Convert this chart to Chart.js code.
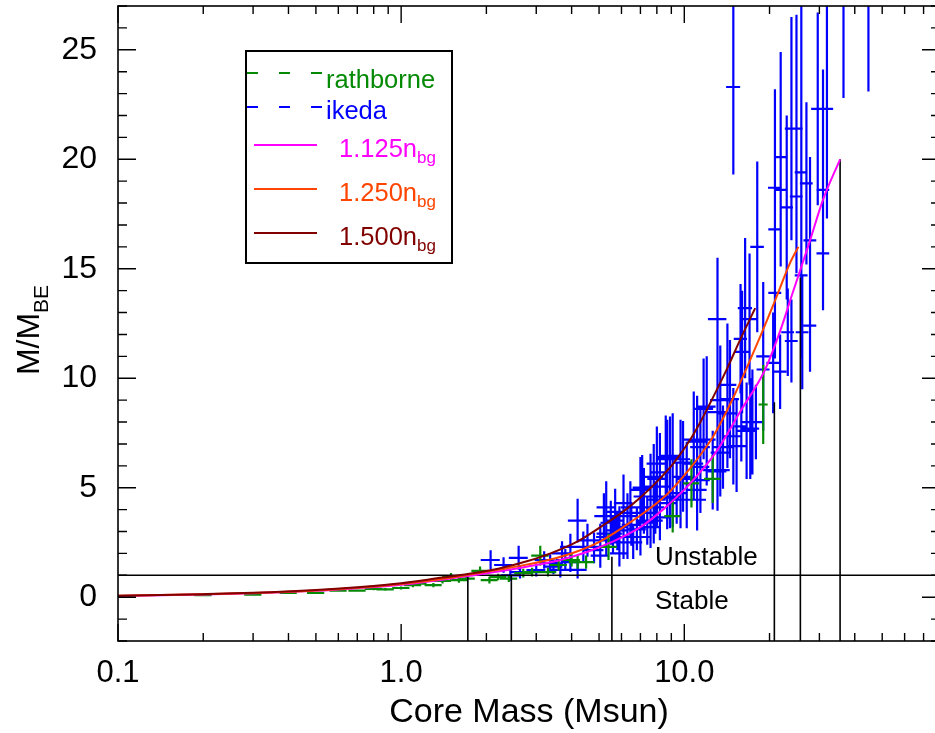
<!DOCTYPE html>
<html>
<head>
<meta charset="utf-8">
<script src="https://cdn.jsdelivr.net/npm/chart.js@4.4.1/dist/chart.umd.min.js"></script>
<style>
html,body{margin:0;padding:0;background:#fff;overflow:hidden;}
#wrap{position:relative;width:935px;height:733px;overflow:hidden;font-family:"Liberation Sans",Arial,Helvetica,sans-serif;color:#000;}
#chart{position:absolute;left:0;top:0;}
.t{position:absolute;white-space:nowrap;line-height:1;}
.ln{position:absolute;height:2px;}
</style>
</head>
<body>
<div id="wrap">
<canvas id="chart" width="950" height="733"></canvas>
<div id="ytitle" style="position:absolute;left:-72px;top:310px;width:200px;height:40px;line-height:40px;text-align:center;font-size:32px;white-space:nowrap;transform:rotate(-90deg);">M/M<span style="font-size:21px;position:relative;top:9px;">BE</span></div>
<div style="position:absolute;left:245px;top:50px;width:204px;height:210px;border:2px solid #000;"></div>
<div class="ln" style="left:247px;top:72px;width:75px;background:repeating-linear-gradient(to right,#058a05 0 11px,transparent 11px 32px);"></div>
<div class="t" style="left:326px;top:67px;font-size:25.5px;color:#058a05;">rathborne</div>
<div class="ln" style="left:247px;top:106px;width:75px;background:repeating-linear-gradient(to right,#0000ff 0 11px,transparent 11px 32px);"></div>
<div class="t" style="left:326px;top:98px;font-size:25.5px;color:#0000ff;">ikeda</div>
<div class="ln" style="left:254px;top:144px;width:63px;background:#ff00ff;"></div>
<div class="t" style="left:339px;top:136px;font-size:25.5px;color:#ff00ff;">1.125n<span style="font-size:17px;position:relative;top:6px;">bg</span></div>
<div class="ln" style="left:254px;top:188px;width:63px;background:#ff4500;"></div>
<div class="t" style="left:339px;top:180px;font-size:25.5px;color:#ff4500;">1.250n<span style="font-size:17px;position:relative;top:6px;">bg</span></div>
<div class="ln" style="left:254px;top:232px;width:63px;background:#800000;"></div>
<div class="t" style="left:339px;top:224px;font-size:25.5px;color:#800000;">1.500n<span style="font-size:17px;position:relative;top:6px;">bg</span></div>
<div class="t" style="left:655px;top:543px;font-size:26px;">Unstable</div>
<div class="t" style="left:655px;top:587px;font-size:26px;">Stable</div>
</div>
<script>
// ---- axis ticks ----
const xTickValues = [0.1, 1, 10];
const xTickLabels = ['0.1', '1.0', '10.0'];
const xMinorTicks = [0.2,0.3,0.4,0.5,0.6,0.7,0.8,0.9,2,3,4,5,6,7,8,9,20,30,40,50,60,70];
const yTickValues = [0, 5, 10, 15, 20, 25];
const yTickLabels = ['0', '5', '10', '15', '20', '25'];
const yMinorTicks = [-2,-1,0,1,2,3,4,5,6,7,8,9,10,11,12,13,14,15,16,17,18,19,20,21,22,23,24,25,26,27];

// ---- model curves ----
const mass1125 = [0.1,0.2,0.3,0.5,0.7,1.0,1.4,1.72,2.2,2.8,3.65,4.5,5.5,7.0,8.4,10.5,12.9,15.8,19.3,22,24,27.5,31,35.5];
const ratio1125 = [0.06,0.12,0.18,0.29,0.41,0.57,0.8,0.97,1.17,1.4,1.7,2.05,2.5,3.2,4.0,5.2,6.6,8.5,10.4,12.3,13.8,16.1,18.2,20.0];
const mass1250 = [0.1,0.2,0.3,0.5,0.7,1.0,1.4,1.72,2.2,2.8,3.37,4.2,5.05,6.5,8.7,10.5,11.7,12.6,15.0,18.6,21,23.7,25.3];
const ratio1250 = [0.065,0.13,0.19,0.31,0.43,0.6,0.84,1.02,1.25,1.5,1.72,2.1,2.55,3.45,4.7,5.9,6.7,7.3,9.2,11.95,13.6,15.3,16.0];
const mass1500 = [0.1,0.2,0.3,0.5,0.7,1.0,1.4,1.72,2.2,2.8,3.37,4.2,5.05,6.0,7.0,8.04,9.14,10.5,11.4,12.05,14.0,15.8,17.8];
const ratio1500 = [0.07,0.14,0.2,0.33,0.46,0.64,0.9,1.06,1.3,1.65,2.0,2.55,3.2,3.85,4.55,5.3,6.1,7.2,8.0,8.6,10.3,11.8,13.2];

// ---- stability markers ----
const thresholdRatio = 1;
const limitMass = [1.72, 2.45, 5.55, 20.8, 25.7, 35.5];
const limitTop = [1.0, 1.0, 1.85, 8.9, 14.6, 20.0];

// ---- rathborne cores ----
const rathMass = [0.2,0.3,0.4,0.5,0.6,0.7,0.8,0.88,1.0,1.1,1.15,1.3,1.4,1.5,1.6,1.7,1.9,2.05,2.2,2.4,2.7,2.9,3.1,3.3,3.6,4.0,4.2,4.5,5.4,9.1,10.6,12.6,19.0];
const rathRatio = [0.09,0.12,0.2,0.2,0.3,0.3,0.38,0.36,0.42,0.55,0.62,0.55,0.75,0.95,0.78,0.85,1.2,0.78,0.92,0.85,1.1,1.15,1.9,1.15,1.47,1.7,1.6,1.6,2.3,3.7,5.2,5.4,8.8];
const rathMassErr = [0.014,0.021,0.028,0.035,0.042,0.049,0.056,0.062,0.07,0.077,0.08,0.09,0.1,0.105,0.11,0.12,0.13,0.14,0.15,0.17,0.19,0.2,0.22,0.23,0.25,0.28,0.29,0.31,0.38,0.6,0.7,0.85,0.7];
const rathRatioErr = [0.03,0.03,0.04,0.05,0.05,0.05,0.06,0.06,0.07,0.1,0.1,0.1,0.12,0.15,0.12,0.12,0.2,0.15,0.15,0.15,0.2,0.2,0.45,0.2,0.25,0.3,0.3,0.3,0.6,0.75,1.1,1.1,1.8];

// ---- ikeda cores ----
const ikedaMass = [
2.07,2.60,2.30,2.43,2.63,3.00,3.36,3.45,3.20,3.65,
3.80,3.96,4.20,4.40,4.20,4.80,5.05,5.20,5.70,5.30,
5.60,5.90,5.90,6.10,6.30,6.30,6.60,6.80,7.00,7.40,
7.60,7.90,8.20,8.20,8.60,7.10,8.00,8.90,9.90,10.2,
8.90,11.1,12.0,12.0,13.1,14.2,14.2,14.5,14.9,17.1,
17.4,13.1,8.00,7.60,7.80,8.20,7.00,6.50,9.10,9.70,
10.2,11.1,11.4,12.6,13.4,15.3,16.6,10.8,9.10,6.10,
6.45,5.30,13.1,16.4,14.9,16.0,17.0,18.1,19.0,20.9,
20.9,20.9,20.6,21.9,21.9,21.8,23.0,23.2,23.9,24.9,
24.9,25.9,25.9,26.1,27.0,27.8,27.8,29.6,30.9,30.9,
31.9,36.5,44.7,16.6,17.9,15.9,19.0,15.8,23.9,5.70,
6.45,7.20,7.80,8.00,8.70,9.70,8.20,7.40,6.30,5.05,
4.80,5.30,7.60,8.70,9.40,9.90,10.8,11.4,11.7,13.4,
13.7,13.4,11.4,11.1,7.20,5.80,5.50,3.96,3.70,4.55];
const ikedaRatio = [
1.70,1.80,1.47,1.00,1.15,1.24,1.56,1.40,1.70,1.25,
1.70,1.60,1.25,2.30,3.50,2.30,1.90,3.70,3.90,2.90,
2.90,2.00,3.20,2.50,2.75,3.70,2.50,3.10,4.90,3.50,
5.05,4.10,5.70,4.60,6.40,5.00,5.40,6.45,6.15,5.40,
4.55,7.10,7.20,8.70,8.45,8.40,9.70,9.05,7.35,7.70,
8.00,5.75,4.45,3.20,3.50,3.65,2.75,3.30,4.60,4.45,
4.45,4.45,5.95,5.80,6.60,6.90,7.60,7.20,6.40,4.30,
4.10,4.10,12.7,13.2,23.3,11.2,12.7,16.0,11.0,18.7,
16.8,13.9,10.7,20.1,18.6,10.3,17.8,12.1,21.4,21.4,
18.3,19.4,14.7,12.1,18.9,16.3,12.4,22.3,18.6,15.7,
22.3,27.8,27.6,8.00,8.00,7.80,10.4,11.8,11.7,3.50,
3.85,4.60,5.50,6.10,6.30,6.30,5.05,3.40,2.50,2.60,
2.15,2.75,3.85,4.30,4.75,5.50,6.10,6.85,8.60,9.00,
6.85,5.80,5.35,4.90,4.10,3.05,3.40,2.30,2.00,2.60];
const ikedaMassErr = [
0.16,0.20,0.17,0.18,0.20,0.23,0.25,0.26,0.24,0.27,
0.29,0.30,0.32,0.33,0.32,0.36,0.38,0.39,0.43,0.40,
0.42,0.44,0.44,0.46,0.47,0.47,0.50,0.51,0.53,0.56,
0.57,0.59,0.62,0.62,0.65,0.53,0.60,0.67,0.74,0.77,
0.67,0.83,0.90,0.90,0.98,1.07,1.07,1.09,1.12,1.28,
1.31,0.98,0.60,0.57,0.59,0.62,0.53,0.49,0.68,0.73,
0.77,0.83,0.86,0.95,1.01,1.15,1.25,0.81,0.68,0.46,
0.48,0.40,0.98,0.95,0.85,0.90,0.95,1.00,1.05,1.15,
1.10,1.10,1.10,1.15,1.15,1.15,1.20,1.20,1.25,1.30,
1.30,1.35,1.35,1.35,1.40,1.45,1.45,1.55,1.60,1.60,
1.65,1.90,2.30,0.85,0.95,0.85,1.00,0.85,1.25,0.45,
0.52,0.58,0.62,0.64,0.70,0.78,0.66,0.59,0.50,0.40,
0.38,0.42,0.61,0.70,0.75,0.79,0.86,0.91,0.94,1.07,
1.10,1.07,0.91,0.89,0.58,0.46,0.44,0.32,0.30,0.36];
const ikedaRatioErr = [
0.45,0.55,0.35,0.25,0.30,0.30,0.40,0.35,0.40,0.35,
0.50,0.45,0.40,0.70,1.00,0.65,0.55,1.05,1.05,0.85,
0.85,0.60,0.95,0.75,0.85,1.05,0.75,0.95,1.50,1.05,
1.50,1.20,1.80,1.40,1.90,1.50,1.60,1.80,1.90,1.70,
1.40,2.10,2.10,2.30,2.30,2.50,2.80,2.70,2.20,2.30,
2.40,1.80,1.30,0.95,1.05,1.05,0.85,0.95,1.40,1.30,
1.30,1.40,1.80,1.80,2.00,2.10,2.20,2.20,2.00,1.30,
1.20,1.20,2.80,3.20,4.00,2.80,3.00,3.90,3.40,4.50,
3.00,3.00,2.30,4.80,3.50,1.70,4.20,2.00,5.10,5.20,
3.50,8.50,3.20,2.60,3.70,3.80,2.10,4.40,5.50,2.50,
5.00,5.00,4.50,1.50,1.70,1.60,2.00,2.50,1.90,1.00,
1.10,1.30,1.50,1.70,1.80,1.80,1.40,1.00,0.75,0.75,
0.60,0.80,1.10,1.20,1.40,1.60,1.70,1.90,2.30,2.50,
1.90,0.90,1.50,1.40,1.20,0.90,1.00,0.60,0.55,0.75];

const X_MIN = 0.1, X_MAX = 80, Y_MIN = -2, Y_MAX = 27;
const FONT = '"Liberation Sans", Arial, Helvetica, sans-serif';

function pairs(xs, ys) { return xs.map((x, i) => ({x: x, y: ys[i]})); }
function errorSegments(m, r, me, re) {
  const pts = [];
  for (let i = 0; i < m.length; i++) {
    pts.push({x: m[i], y: r[i] - re[i]}, {x: m[i], y: r[i] + re[i]}, {x: m[i], y: null});
    pts.push({x: m[i] - me[i], y: r[i]}, {x: m[i] + me[i], y: r[i]}, {x: m[i], y: null});
  }
  return pts;
}
function verticalSegments(m, top) {
  const pts = [];
  for (let i = 0; i < m.length; i++) {
    pts.push({x: m[i], y: Y_MIN}, {x: m[i], y: top[i]}, {x: m[i], y: null});
  }
  return pts;
}

const frameTicks = {
  id: 'frameTicks',
  afterDraw(chart) {
    const {ctx, chartArea: a, scales: {x, y}} = chart;
    ctx.save();
    ctx.strokeStyle = '#000';
    ctx.lineWidth = 1.6;
    ctx.strokeRect(a.left, a.top, a.right - a.left, a.bottom - a.top);
    ctx.lineWidth = 1.4;
    ctx.beginPath();
    const xt = (v, len) => { const p = x.getPixelForValue(v);
      ctx.moveTo(p, a.bottom); ctx.lineTo(p, a.bottom - len);
      ctx.moveTo(p, a.top); ctx.lineTo(p, a.top + len); };
    const yt = (v, len) => { const p = y.getPixelForValue(v);
      ctx.moveTo(a.left, p); ctx.lineTo(a.left + len, p);
      ctx.moveTo(a.right, p); ctx.lineTo(a.right - len, p); };
    xMinorTicks.forEach(v => xt(v, 8));
    xTickValues.forEach(v => xt(v, 17));
    yMinorTicks.forEach(v => yt(v, 9));
    yTickValues.forEach(v => yt(v, 18));
    ctx.stroke();
    ctx.restore();
  }
};

const line = (label, data, color, width, extra) => Object.assign({
  label: label, data: data, borderColor: color, backgroundColor: color,
  borderWidth: width, pointRadius: 0, fill: false, spanGaps: false, tension: 0
}, extra || {});

new Chart(document.getElementById('chart'), {
  type: 'line',
  data: {
    datasets: [
      line('1.500n_bg', pairs(mass1500, ratio1500), '#800000', 2, {cubicInterpolationMode: 'monotone'}),
      line('1.250n_bg', pairs(mass1250, ratio1250), '#ff4500', 2, {cubicInterpolationMode: 'monotone'}),
      line('1.125n_bg', pairs(mass1125, ratio1125), '#ff00ff', 2, {cubicInterpolationMode: 'monotone'}),
      line('threshold', [{x: X_MIN, y: thresholdRatio}, {x: X_MAX, y: thresholdRatio}], '#000', 1.6),
      line('limits', verticalSegments(limitMass, limitTop), '#000', 1.6),
      line('rathborne', errorSegments(rathMass, rathRatio, rathMassErr, rathRatioErr), '#058a05', 2.2),
      line('ikeda', errorSegments(ikedaMass, ikedaRatio, ikedaMassErr, ikedaRatioErr), '#0000ff', 2.2)
    ]
  },
  options: {
    responsive: false,
    animation: false,
    devicePixelRatio: 1,
    events: [],
    layout: {padding: {top: 6, right: 10, left: 0, bottom: 0}},
    plugins: {legend: {display: false}, tooltip: {enabled: false}},
    scales: {
      x: {
        type: 'logarithmic', min: X_MIN, max: X_MAX,
        grid: {display: false}, border: {display: false},
        afterBuildTicks: s => { s.ticks = xTickValues.map(v => ({value: v})); },
        afterFit: s => { s.height = 92; s.paddingLeft = 0; s.paddingRight = 0; },
        ticks: {autoSkip: false, maxRotation: 0, minRotation: 0, padding: 6, color: '#000',
                font: {size: 31, family: FONT}, callback: (v, i) => xTickLabels[i]},
        title: {display: true, text: 'Core Mass (Msun)', color: '#000',
                font: {size: 34, family: FONT, lineHeight: 1.2}, padding: {top: 0, bottom: 0}}
      },
      y: {
        type: 'linear', min: Y_MIN, max: Y_MAX,
        grid: {display: false}, border: {display: false},
        afterBuildTicks: s => { s.ticks = yTickValues.map(v => ({value: v})); },
        afterFit: s => { s.width = 118; s.paddingTop = 0; s.paddingBottom = 0; },
        ticks: {autoSkip: false, padding: 13, color: '#000',
                font: {size: 32, family: FONT}, callback: (v, i) => yTickLabels[i]}
      }
    }
  },
  plugins: [frameTicks]
});
</script>
</body>
</html>
